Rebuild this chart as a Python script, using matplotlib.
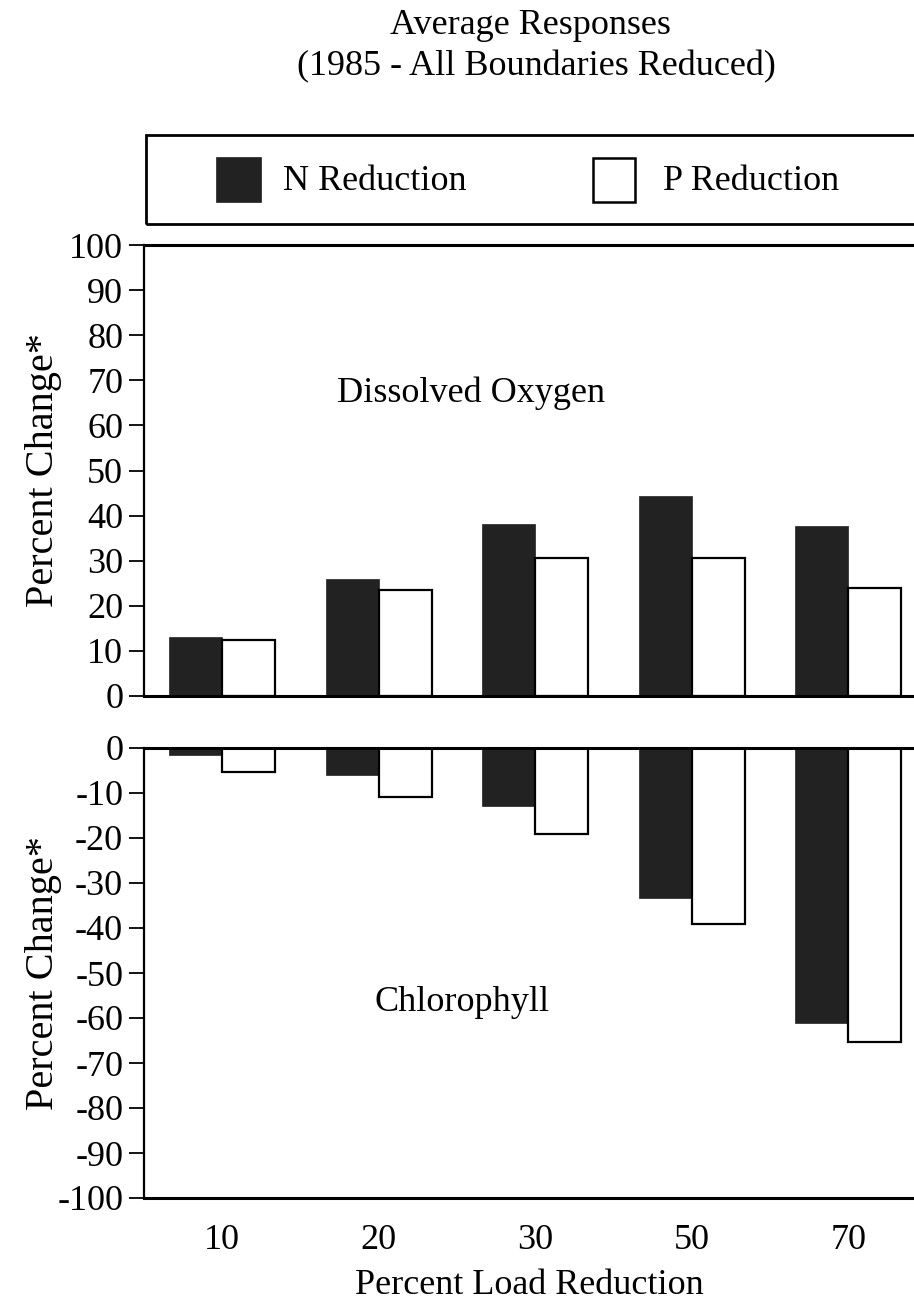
import matplotlib
matplotlib.use("Agg")
import matplotlib.pyplot as plt
from matplotlib.patches import Rectangle
import numpy as np

plt.rcParams['font.family'] = ['Liberation Serif', 'DejaVu Serif']
plt.rcParams['axes.unicode_minus'] = False

# ---- data ----
categories = ["10", "20", "30", "50", "70"]
do_n = [13, 26, 38.2, 44.3, 37.8]
do_p = [12.5, 23.5, 30.5, 30.5, 24]
chl_n = [-1.5, -5.9, -13, -33.4, -61]
chl_p = [-5.3, -10.9, -19.1, -39.1, -65.3]
series_names = ["N Reduction", "P Reduction"]
title_lines = ["Average Responses", "(1985 - All Boundaries Reduced)"]
top_ticks = list(range(0, 101, 10))
bot_ticks = list(range(-100, 1, 10))

W, H = 914, 1299
fig = plt.figure(figsize=(W / 100, H / 100), dpi=100)

def fx(px):
    return px / W

def fy(py):
    return 1 - py / H

left = fx(144)
ax1 = fig.add_axes([left, fy(696), 1 - left, fy(245) - fy(696)])
ax2 = fig.add_axes([left, fy(1198), 1 - left, fy(748) - fy(1198)])

x = np.arange(len(categories))
bw = 0.338
dark = '#222222'
FS = 26

for ax, n_vals, p_vals in [(ax1, do_n, do_p), (ax2, chl_n, chl_p)]:
    ax.bar(x - bw / 2, n_vals, bw, color=dark, edgecolor=dark, linewidth=0.5, zorder=2)
    ax.bar(x + bw / 2, p_vals, bw, color='white', edgecolor='black', linewidth=1.6, zorder=2)
    ax.set_xlim(-0.5, 4.42)
    ax.spines['right'].set_visible(False)
    ax.spines['left'].set_linewidth(1.6)
    ax.spines['top'].set_linewidth(2.2)
    ax.spines['bottom'].set_linewidth(2.2)
    ax.tick_params(axis='y', direction='out', length=11, width=1.3, labelsize=FS, pad=4)
    ax.tick_params(axis='x', length=0)

ax1.set_ylim(0, 100)
ax1.set_yticks(top_ticks)
ax1.set_xticks([])
ax2.set_ylim(-100, 0)
ax2.set_yticks(bot_ticks)
ax2.set_xticks(x)
ax2.set_xticklabels(categories, fontsize=FS)
ax2.tick_params(axis='x', pad=19)

ax1.set_ylabel("Percent Change*", fontsize=29)
ax2.set_ylabel("Percent Change*", fontsize=29)
ax2.set_xlabel("Percent Load Reduction", fontsize=FS, labelpad=8)
for ax in (ax1, ax2):
    ax.yaxis.set_label_coords(-(144 - 62) / (W - 144), 0.5)

ax1.text(1.59, 67.2, "Dissolved Oxygen", fontsize=FS, ha='center', va='center')
ax2.text(1.53, -56.5, "Chlorophyll", fontsize=FS, ha='center', va='center')

# title
fig.text(fx(530), fy(25), title_lines[0], fontsize=FS, ha='center', va='center')
fig.text(fx(536), fy(67), title_lines[1], fontsize=FS, ha='center', va='center')

# legend box
box_top, box_bot = 135, 224
fig.add_artist(Rectangle((fx(146), fy(box_bot)), 1.0, fy(box_top) - fy(box_bot),
                         transform=fig.transFigure, fill=False, lw=2.0, edgecolor='black'))
fig.add_artist(Rectangle((fx(216), fy(202)), fx(261) - fx(216), fy(157) - fy(202),
                         transform=fig.transFigure, facecolor=dark, edgecolor=dark, lw=0.5))
fig.add_artist(Rectangle((fx(593), fy(202)), fx(635) - fx(593), fy(158) - fy(202),
                         transform=fig.transFigure, facecolor='white', edgecolor='black', lw=1.8))
fig.text(fx(283), fy(181), series_names[0], fontsize=FS, ha='left', va='center')
fig.text(fx(663), fy(181), series_names[1], fontsize=FS, ha='left', va='center')

fig.savefig("out.png", dpi=100)
